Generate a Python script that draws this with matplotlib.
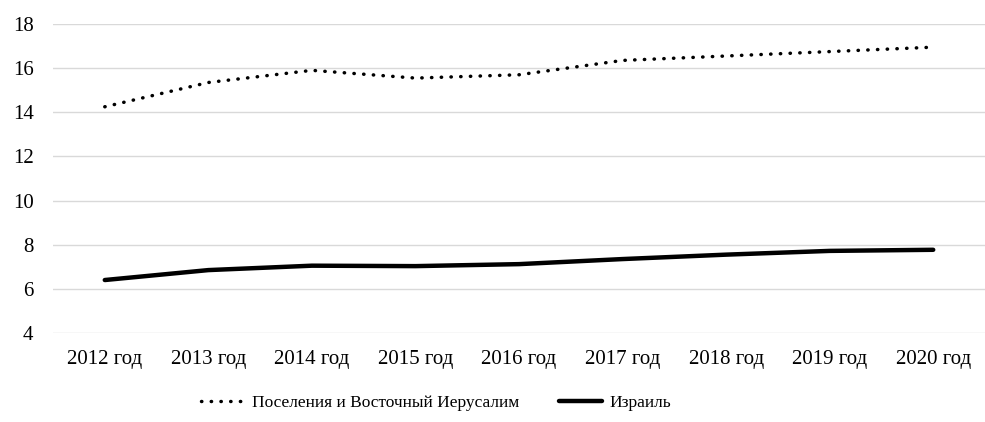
import matplotlib.pyplot as plt

plt.rcParams['font.family'] = ['Liberation Serif', 'DejaVu Serif']

years = ["2012 год", "2013 год", "2014 год", "2015 год", "2016 год",
         "2017 год", "2018 год", "2019 год", "2020 год"]
settlements = [14.25, 15.35, 15.9, 15.55, 15.7, 16.35, 16.55, 16.75, 16.95]
israel = [6.4, 6.85, 7.05, 7.03, 7.12, 7.35, 7.55, 7.72, 7.77]

fig = plt.figure(figsize=(9.85, 4.22), dpi=100)
ax = fig.add_axes([53 / 985, 1 - 333 / 422, 1 - 53 / 985, (333 - 24) / 422])

x = list(range(len(years)))
ax.plot(x, settlements, color="black", lw=2.5, linestyle=(0, (0.1, 2.7)),
        dash_capstyle="round", label="Поселения и Восточный Иерусалим")
ax.plot(x, israel, color="black", lw=3.2, solid_capstyle="round", label="Израиль")

ax.set_xlim(-0.5, len(years) - 0.5)
ax.set_ylim(4, 18)
ax.set_yticks(range(4, 19, 2))
ax.set_xticks(x)
ax.set_xticklabels(years)
ax.tick_params(axis="both", length=0, labelsize=15)
ax.tick_params(axis="y", pad=14)
ax.tick_params(axis="x", pad=12)
ax.grid(axis="y", color="#d9d9d9", lw=1)
ax.set_axisbelow(True)
for s in ax.spines.values():
    s.set_visible(False)

fig.legend(loc="center", bbox_to_anchor=(436 / 985, 1 - 403 / 422), ncol=2, frameon=False,
           fontsize=12.5, handlelength=2.5, handletextpad=0.4, columnspacing=2.3)

fig.savefig("out.png", dpi=100)
